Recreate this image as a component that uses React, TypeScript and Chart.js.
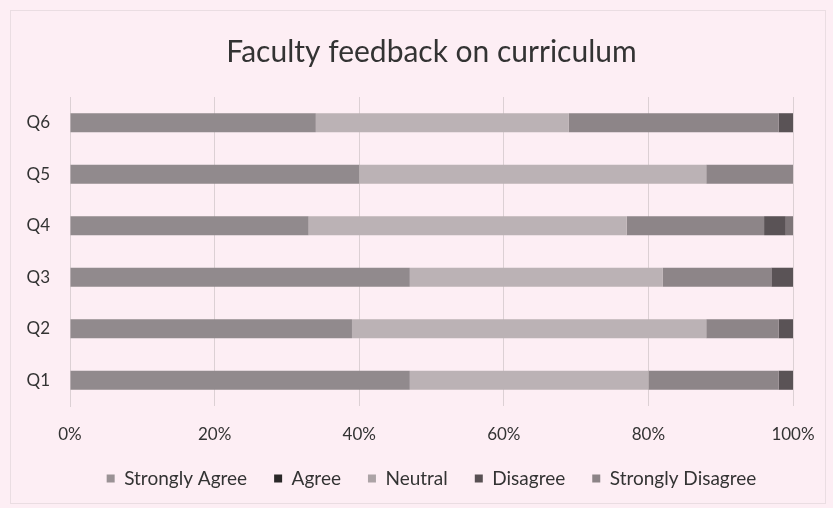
import React, { useEffect, useRef } from "react";
import { Chart, registerables } from "chart.js";

Chart.register(...registerables);

const categories = ["Q6", "Q5", "Q4", "Q3", "Q2", "Q1"];
const seriesNames = ["Strongly Agree", "Agree", "Neutral", "Disagree", "Strongly Disagree"];
const stronglyAgree = [34, 40, 33, 47, 39, 47];
const agree = [35, 48, 44, 35, 49, 33];
const neutral = [29, 12, 19, 15, 10, 18];
const disagree = [2, 0, 3, 3, 2, 2];
const stronglyDisagree = [0, 0, 1, 0, 0, 0];
const xTickLabels = ["0%", "20%", "40%", "60%", "80%", "100%"];

const barColors = ["#918a8d", "#bbb2b5", "#8d8588", "#5a5356", "#7d7578"];
const swatchColors = ["#9a9295", "#2a2828", "#aca3a6", "#585053", "#8c8487"];

const FONT = "Lato, 'Open Sans', sans-serif";

export default function App() {
  const ref = useRef<HTMLCanvasElement | null>(null);
  useEffect(() => {
    const ctx = ref.current!;
    const values = [stronglyAgree, agree, neutral, disagree, stronglyDisagree];
    const bgPlugin = {
      id: "bg",
      beforeDraw(chart: any) {
        const c = chart.ctx;
        c.save();
        c.fillStyle = "#fdeef4";
        c.fillRect(0, 0, chart.width, chart.height);
        c.strokeStyle = "#eadde2";
        c.lineWidth = 1;
        c.strokeRect(10.5, 10.5, chart.width - 18, chart.height - 15);
        c.restore();
      },
    };
    const chart = new Chart(ctx, {
      type: "bar",
      data: {
        labels: categories,
        datasets: seriesNames.map((name, i) => ({
          label: name,
          data: values[i],
          backgroundColor: barColors[i],
          borderWidth: 0,
          barPercentage: 0.37,
          categoryPercentage: 1,
        })),
      },
      options: {
        indexAxis: "y",
        animation: false,
        responsive: false,
        maintainAspectRatio: false,
        layout: { padding: { left: 10, right: 40, top: 14, bottom: 10 } },
        plugins: {
          title: {
            display: true,
            fullSize: false,
            text: "Faculty feedback on curriculum",
            color: "#333333",
            font: { family: FONT, size: 30, weight: "normal" },
            padding: { top: 20, bottom: 27 },
          },
          legend: {
            position: "bottom",
            fullSize: false,
            labels: {
              color: "#333333",
              font: { family: FONT, size: 19 },
              boxWidth: 8,
              boxHeight: 8,
              padding: 27,
              generateLabels: (chart: any) =>
                chart.data.datasets.map((ds: any, i: number) => ({
                  text: ds.label,
                  fillStyle: swatchColors[i],
                  strokeStyle: swatchColors[i],
                  lineWidth: 0,
                  hidden: false,
                  datasetIndex: i,
                  fontColor: "#333333",
                })),
            },
          },
          tooltip: { enabled: false },
        },
        scales: {
          x: {
            stacked: true,
            min: 0,
            max: 100,
            ticks: {
              stepSize: 20,
              color: "#333333",
              font: { family: FONT, size: 17 },
              padding: 18,
              maxRotation: 0,
              callback: (_v: any, idx: number) => xTickLabels[idx],
            },
            grid: { color: "#dcd0d4", drawTicks: false },
            border: { display: false },
            afterFit: (s: any) => {
              s.height = 36;
            },
          },
          y: {
            stacked: true,
            ticks: {
              color: "#333333",
              font: { family: FONT, size: 17 },
              padding: 20,
            },
            grid: { display: false, drawTicks: false },
            border: { display: true, color: "#dcd0d4" },
            afterFit: (s: any) => {
              s.width = 60;
            },
          },
        },
      },
      plugins: [bgPlugin],
    });
    return () => chart.destroy();
  }, []);
  return (
    <div style={{ position: "fixed", left: 0, top: 0, width: 833, height: 508 }}>
      <canvas ref={ref} width={833} height={508} style={{ display: "block" }} />
    </div>
  );
}
